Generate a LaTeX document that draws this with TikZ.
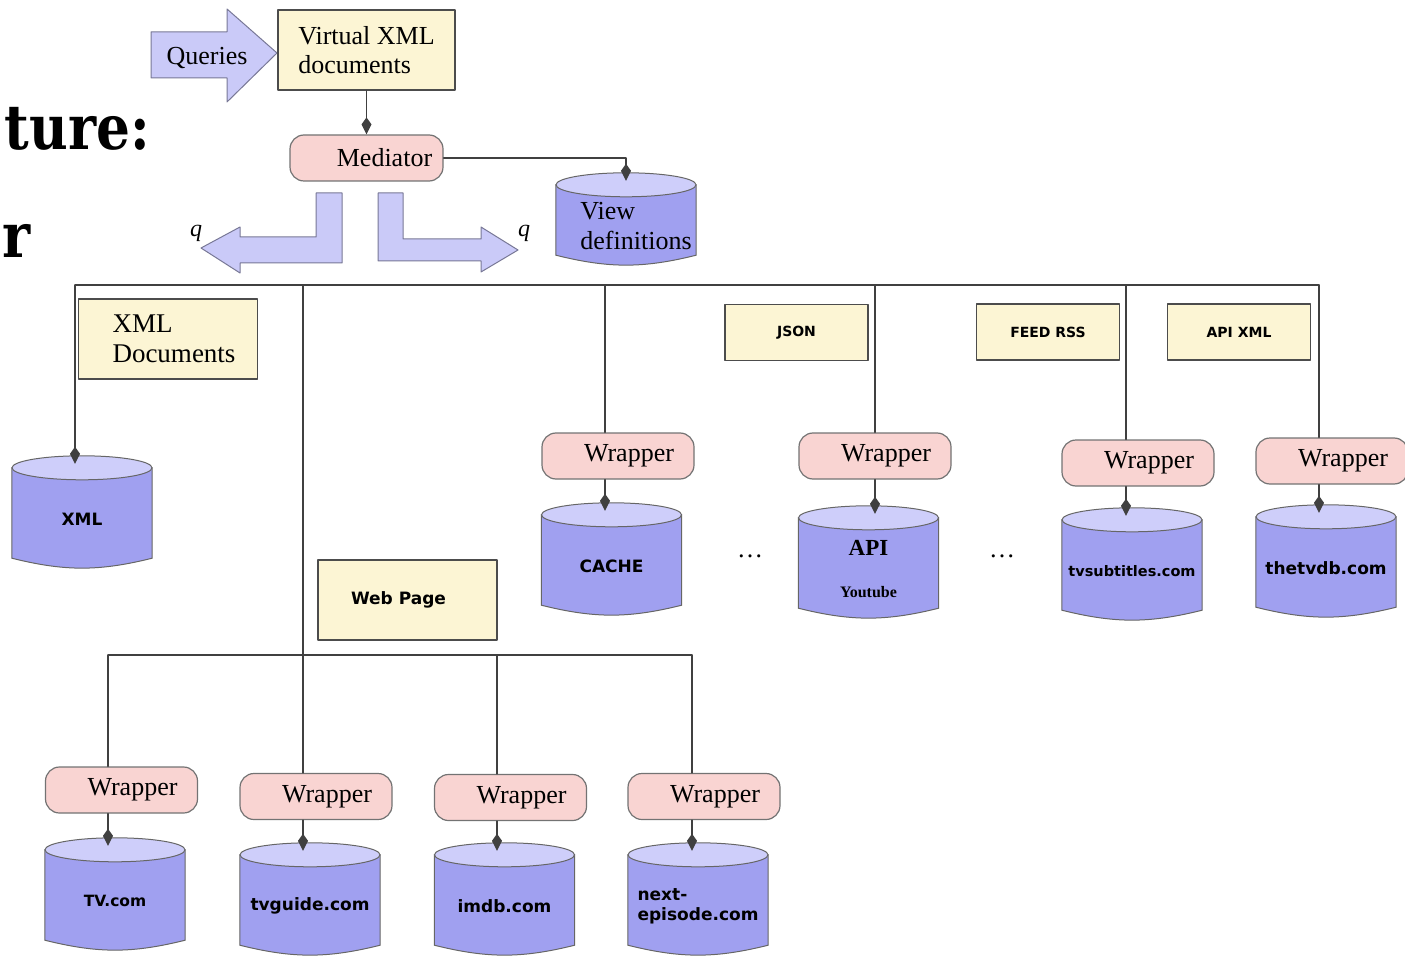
\documentclass[tikz,border=0pt]{standalone}
\usepackage{fontspec}
\setmainfont{Liberation Serif}
\newfontfamily\dbfont{DejaVu Sans}
\newfontfamily\titlefont{DejaVu Serif}
\usetikzlibrary{arrows.meta,backgrounds}
\definecolor{docyellow}{RGB}{252,245,212}
\definecolor{wrappink}{RGB}{249,212,210}
\definecolor{dbbody}{RGB}{160,160,240}
\definecolor{dbtop}{RGB}{206,206,250}
\definecolor{blockfill}{RGB}{202,202,248}
\definecolor{blockline}{RGB}{120,120,150}
\begin{document}
\begin{tikzpicture}[x=1pt, y=-1pt, line join=round, line cap=round,
	>={Kite[length=17pt,width=10pt,inset=7pt]},
	wire/.style={draw=black!75, line width=1.3pt},
	block/.style={fill=blockfill, draw=blockline, line width=1pt},
	docbox/.style={draw=black!70, line width=1.2pt, fill=docyellow, align=left,
		font=\fontsize{26}{29}\selectfont},
	tagbox/.style={draw=black!70, line width=1.2pt, fill=docyellow, minimum width=143pt,
		minimum height=56pt, font=\dbfont\bfseries\fontsize{14}{17}\selectfont},
	wrapbox/.style={draw=black!55, line width=1.2pt, fill=wrappink, rounded corners=14pt,
		minimum width=152pt, minimum height=46pt, font=\fontsize{26}{30}\selectfont,
		execute at begin node=\hspace*{22pt}},
	dbnode/.style={minimum width=140pt, minimum height=78pt, inner sep=0pt, align=center,
		font=\dbfont\bfseries\fontsize{17}{20}\selectfont},
	dbshape/.style={fill=dbbody, draw=black!60, line width=1pt},
	dbcap/.style={fill=dbtop, draw=black!60, line width=1pt},
	cuttitle/.style={anchor=base east, inner sep=0pt, xscale=0.86, transform shape,
		font=\titlefont\bfseries\fontsize{62}{70}\selectfont}]
	\useasboundingbox (0,0) rectangle (1405,957);
	% cut title
	\node[cuttitle] (ttlA) at (150,150) {ture:};
	\node[cuttitle] (ttlB) at (31,258) {r};
	% query arrows
	\filldraw[block] (151,32) -- (227,32) -- (227,9) -- (277,53) -- (227,102) -- (227,78) -- (151,78) -- cycle;
	\node[font=\fontsize{26}{30}\selectfont] (qry) at (207,58) {Queries};
	\filldraw[block] (316,193) -- (342,193) -- (342,263) -- (240,263) -- (240,273) -- (201,248) -- (240,227) -- (240,237) -- (316,237) -- cycle;
	\filldraw[block] (378,193) -- (403,193) -- (403,239) -- (481,239) -- (481,227) -- (518,250) -- (481,272) -- (481,261) -- (378,261) -- cycle;
	\node[font=\itshape\fontsize{24}{28}\selectfont] (qleft) at (196,233) {q};
	\node[font=\itshape\fontsize{24}{28}\selectfont] (qright) at (524,233) {q};
	% top part
	\node[docbox, minimum width=177pt, minimum height=80pt] (vxml) at (366.5,50) {Virtual XML\\documents};
	\node[wrapbox, minimum width=153pt, execute at begin node=\hspace*{14pt}] (med) at (366.5,158) {Mediator};
	\node[dbnode, minimum height=58pt, align=left, font=\fontsize{26}{30}\selectfont] (vdef) at (626,226) {\hspace*{20pt}View\\\hspace*{20pt}definitions};
	% yellow labels
	\node[docbox, minimum width=179pt, minimum height=80pt, font=\fontsize{27}{30}\selectfont] (xmldoc) at (168,339) {\hspace*{12pt}XML\\\hspace*{12pt}Documents};
	\node[tagbox] (json) at (796.5,332.5) {JSON};
	\node[tagbox] (feed) at (1048,332) {FEED RSS};
	\node[tagbox] (apixml) at (1239,332) {API XML};
	\node[tagbox, minimum width=179pt, minimum height=80pt, font=\dbfont\bfseries\fontsize{17}{20}\selectfont] (webpage) at (407.5,600) {Web Page\hspace*{18pt}};
	% wrappers
	\node[wrapbox] (w1) at (618,456) {Wrapper};
	\node[wrapbox] (w2) at (875,456) {Wrapper};
	\node[wrapbox] (w3) at (1138,463) {Wrapper};
	\node[wrapbox] (w4) at (1332,461) {Wrapper};
	\node[wrapbox] (w5) at (121.5,790) {Wrapper};
	\node[wrapbox] (w6) at (316,796.5) {Wrapper};
	\node[wrapbox] (w7) at (510.5,797.5) {Wrapper};
	\node[wrapbox] (w8) at (704,796.5) {Wrapper};
	% sources
	\node[dbnode] (xml) at (82,519) {XML};
	\node[dbnode] (cache) at (611.5,566) {CACHE};
	\node[dbnode, font=\bfseries\fontsize{23}{26}\selectfont] (api) at (868.5,569) {API\\[16pt]{\fontsize{16}{18}\selectfont Youtube}};
	\node[dbnode, font=\dbfont\bfseries\fontsize{14.5}{17}\selectfont] (tvsub) at (1132,571) {tvsubtitles.com};
	\node[dbnode] (thetvdb) at (1326,568) {thetvdb.com};
	\node[dbnode, font=\dbfont\bfseries\fontsize{15.5}{18}\selectfont] (tvcom) at (115,901) {TV.com};
	\node[dbnode] (tvguide) at (310,906) {tvguide.com};
	\node[dbnode] (imdb) at (504.5,906) {imdb.com};
	\node[dbnode, align=left] (nextep) at (698,906) {next-\\episode.com};
	\node[font=\fontsize{26}{30}\selectfont] (dotsA) at (750,556) {\dots};
	\node[font=\fontsize{26}{30}\selectfont] (dotsB) at (1002,556) {\dots};
	% cylinder bodies
	\begin{pgfonlayer}{background}
		\foreach \n in {xml,vdef,cache,api,tvsub,thetvdb,tvcom,tvguide,imdb,nextep}{
			\filldraw[dbshape] ([yshift=12pt]\n.north west) -- (\n.south west) to[bend right=14] (\n.south east) -- ([yshift=12pt]\n.north east) -- cycle;
			\filldraw[dbcap] ([yshift=12pt]\n.north) ellipse [x radius=70pt, y radius=12pt];
		}
	\end{pgfonlayer}
	\foreach \n in {xml,vdef,cache,api,tvsub,thetvdb,tvcom,tvguide,imdb,nextep}
		\coordinate (\n-in) at ([yshift=16pt]\n.north);
	% bus taps
	\coordinate (busl) at (75,285);
	\coordinate (busr) at (1319,285);
	\coordinate (hub) at (303,285);
	\coordinate (tcache) at (605,285);
	\coordinate (tapi) at (875,285);
	\coordinate (ttvsub) at (1126,285);
	\coordinate (lowl) at (108,655);
	\coordinate (tguide) at (303,655);
	\coordinate (timdb) at (497,655);
	\coordinate (lowr) at (692,655);
	% connectors
	\draw[wire,->] (vxml) -- (med);
	\draw[wire,->] (med.east) -- (med.east -| vdef-in) -- (vdef-in);
	\draw[wire] (busl) -- (busr);
	\draw[wire,->] (busl) -- (busl |- xml-in);
	\draw[wire] (hub) -- (tguide);
	\draw[wire] (lowl) -- (lowr);
	\foreach \t/\w/\d in {tcache/w1/cache, tapi/w2/api, ttvsub/w3/tvsub, busr/w4/thetvdb,
		lowl/w5/tvcom, tguide/w6/tvguide, timdb/w7/imdb, lowr/w8/nextep}{
		\draw[wire] (\t) -- (\t |- \w.north);
		\draw[wire,->] (\t |- \w.south) -- (\t |- \d-in);
	}
\end{tikzpicture}
\end{document}
